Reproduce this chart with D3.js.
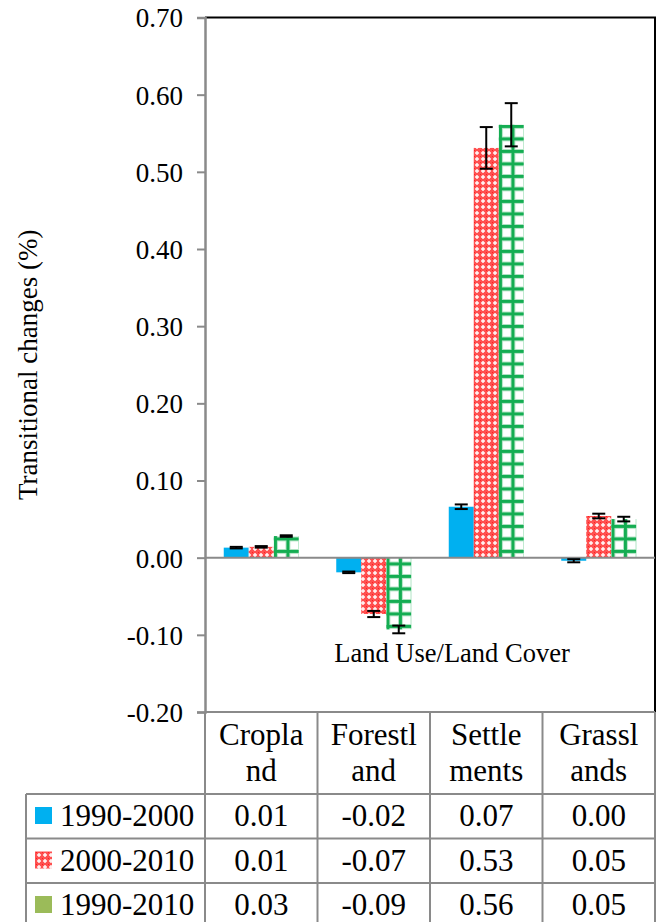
<!DOCTYPE html>
<html><head><meta charset="utf-8">
<script src="https://cdn.jsdelivr.net/npm/d3@7"></script>
<style>html,body{margin:0;padding:0;background:#fff;} svg{display:block;}</style>
</head><body>
<svg id="c" width="661" height="922" font-family="Liberation Serif, serif"></svg>
<script>
const categories = ["Cropland","Forestland","Settlements","Grasslands"];
const headerLines = [["Cropla","nd"],["Forestl","and"],["Settle","ments"],["Grassl","ands"]];
const seriesNames = ["1990-2000","2000-2010","1990-2010"];
const values1 = [0.013, -0.019, 0.066, -0.004];
const values2 = [0.014, -0.073, 0.531, 0.054];
const values3 = [0.028, -0.093, 0.561, 0.050];
const errors1 = [0.001, 0.001, 0.003, 0.002];
const errors2 = [0.001, 0.004, 0.027, 0.003];
const errors3 = [0.001, 0.005, 0.028, 0.003];
const tableLabels1 = ["0.01","-0.02","0.07","0.00"];
const tableLabels2 = ["0.01","-0.07","0.53","0.05"];
const tableLabels3 = ["0.03","-0.09","0.56","0.05"];
const tickValues = [-0.2,-0.1,0,0.1,0.2,0.3,0.4,0.5,0.6,0.7];
const tickLabels = ["-0.20","-0.10","0.00","0.10","0.20","0.30","0.40","0.50","0.60","0.70"];
const yTitle = "Transitional changes (%)";
const xTitle = "Land Use/Land Cover";

const seriesValues = [values1, values2, values3];
const seriesErrors = [errors1, errors2, errors3];
const seriesTable = [tableLabels1, tableLabels2, tableLabels3];

const svg = d3.select("#c");
const FONT = "Liberation Serif, serif";
const GRAY = "#8a8a8a";

const L = 205, R = 655, T = 17.5, B = 712;
const y = d3.scaleLinear().domain([-0.2, 0.7]).range([B, T]);
const x0 = d3.scaleBand().domain(categories).range([L, R]).paddingInner(0).paddingOuter(0);
const x1 = d3.scaleBand().domain(seriesNames).range([0, x0.bandwidth()]).paddingInner(0).paddingOuter(0.75);

// patterns
const defs = svg.append("defs");
const pr = defs.append("pattern").attr("id","pRed").attr("patternUnits","userSpaceOnUse")
  .attr("width",6).attr("height",6);
pr.append("rect").attr("width",6).attr("height",6).attr("fill","#ff5050");
pr.append("rect").attr("x",1).attr("y",2.3).attr("width",4).attr("height",1.4).attr("fill","#fff");
pr.append("rect").attr("x",2.3).attr("y",1).attr("width",1.4).attr("height",4).attr("fill","#fff");
pr.append("rect").attr("x",0).attr("y",0).attr("width",1).attr("height",1).attr("fill","#ff2020");

const pg = defs.append("pattern").attr("id","pGreen").attr("patternUnits","userSpaceOnUse")
  .attr("width",12.5).attr("height",12.5).attr("x",499).attr("y",0);
pg.append("rect").attr("width",12.5).attr("height",12.5).attr("fill","#fff");
pg.append("rect").attr("x",0).attr("y",0).attr("width",12.5).attr("height",3).attr("fill","#14ad52");
pg.append("rect").attr("x",0).attr("y",0).attr("width",3).attr("height",12.5).attr("fill","#14ad52");
pg.append("rect").attr("x",3).attr("y",3).attr("width",9.5).attr("height",0.9).attr("fill","#a8e0bd");
pg.append("rect").attr("x",3).attr("y",3).attr("width",0.9).attr("height",9.5).attr("fill","#a8e0bd");
pg.append("rect").attr("x",11.6).attr("y",3).attr("width",0.9).attr("height",9.5).attr("fill","#a8e0bd");
pg.append("rect").attr("x",3).attr("y",11.6).attr("width",9.5).attr("height",0.9).attr("fill","#a8e0bd");

const fills = ["#00B0F0","url(#pRed)","url(#pGreen)"];
const legendFills = ["#00B0F0","url(#pRed)","#9BBB59"];

// plot border top/right (black)
svg.append("line").attr("x1",L).attr("x2",R+1).attr("y1",T).attr("y2",T).attr("stroke","#000").attr("stroke-width",2);
svg.append("line").attr("x1",R).attr("x2",R).attr("y1",T).attr("y2",B).attr("stroke","#000").attr("stroke-width",2);

// bars
const data = [];
categories.forEach((c,i)=>seriesNames.forEach((s,j)=>data.push({c,s,j,v:seriesValues[j][i],e:seriesErrors[j][i]})));
svg.append("g").selectAll("rect").data(data).join("rect")
  .attr("x",d=>x0(d.c)+x1(d.s))
  .attr("width",x1.bandwidth())
  .attr("y",d=>y(Math.max(0,d.v)))
  .attr("height",d=>Math.abs(y(d.v)-y(0)))
  .attr("fill",d=>fills[d.j]);

// zero line
svg.append("line").attr("x1",L).attr("x2",R).attr("y1",y(0)).attr("y2",y(0)).attr("stroke",GRAY).attr("stroke-width",2);

// error bars
const eg = svg.append("g").attr("stroke","#000").attr("stroke-width",2);
data.forEach(d=>{
  const cx = x0(d.c)+x1(d.s)+x1.bandwidth()/2;
  const y1 = y(d.v+d.e), y2 = y(d.v-d.e), hw = 6.5;
  eg.append("line").attr("x1",cx).attr("x2",cx).attr("y1",y1).attr("y2",y2);
  eg.append("line").attr("x1",cx-hw).attr("x2",cx+hw).attr("y1",y1).attr("y2",y1);
  eg.append("line").attr("x1",cx-hw).attr("x2",cx+hw).attr("y1",y2).attr("y2",y2);
});

// y axis
const ax = svg.append("g").attr("transform",`translate(${L},0)`)
  .call(d3.axisLeft(y).tickValues(tickValues).tickSize(8).tickPadding(14)
    .tickFormat((d,i)=>tickLabels[i]));
ax.attr("font-family",FONT).attr("font-size",27);
ax.select(".domain").attr("stroke",GRAY).attr("stroke-width",2.5);
ax.selectAll(".tick line").attr("stroke",GRAY).attr("stroke-width",2);
ax.selectAll(".tick text").attr("font-family",FONT).attr("font-size",27).attr("fill","#000").attr("dy","0.35em");

// y title
svg.append("text").attr("transform",`translate(37,${(T+B)/2}) rotate(-90)`)
  .attr("text-anchor","middle").attr("font-family",FONT).attr("font-size",27).text(yTitle);

// x title
svg.append("text").attr("x",452).attr("y",662).attr("text-anchor","middle")
  .attr("font-family",FONT).attr("font-size",26.5).text(xTitle);

// table
const rowTops = [712, 794, 838.5, 883];
const rowH = 44.5;
const tb = svg.append("g").attr("stroke",GRAY).attr("stroke-width",2).attr("fill","none");
tb.append("line").attr("x1",L).attr("x2",R).attr("y1",B).attr("y2",B);
[...categories.map(c=>x0(c)), R].forEach(xx=>{
  tb.append("line").attr("x1",xx).attr("x2",xx).attr("y1",B).attr("y2",922);
});
tb.append("line").attr("x1",26).attr("x2",26).attr("y1",rowTops[1]).attr("y2",922);
rowTops.slice(1).forEach(ry=>tb.append("line").attr("x1",26).attr("x2",R).attr("y1",ry).attr("y2",ry));
tb.append("line").attr("x1",26).attr("x2",R).attr("y1",rowTops[3]+rowH).attr("y2",rowTops[3]+rowH);

const tt = svg.append("g").attr("font-family",FONT).attr("font-size",31).attr("fill","#000").attr("text-anchor","middle");
categories.forEach((c,i)=>{
  const cx = x0(c)+x0.bandwidth()/2;
  tt.append("text").attr("x",cx).attr("y",745).text(headerLines[i][0]);
  tt.append("text").attr("x",cx).attr("y",781).text(headerLines[i][1]);
});
seriesNames.forEach((s,j)=>{
  const base = rowTops[j+1] + 32;
  svg.append("rect").attr("x",35).attr("y",rowTops[j+1]+13).attr("width",17).attr("height",17).attr("fill",legendFills[j]);
  svg.append("text").attr("x",60).attr("y",base).attr("font-family",FONT).attr("font-size",31).text(s);
  categories.forEach((c,i)=>{
    tt.append("text").attr("x",x0(c)+x0.bandwidth()/2).attr("y",base).text(seriesTable[j][i]);
  });
});
</script>
</body></html>
